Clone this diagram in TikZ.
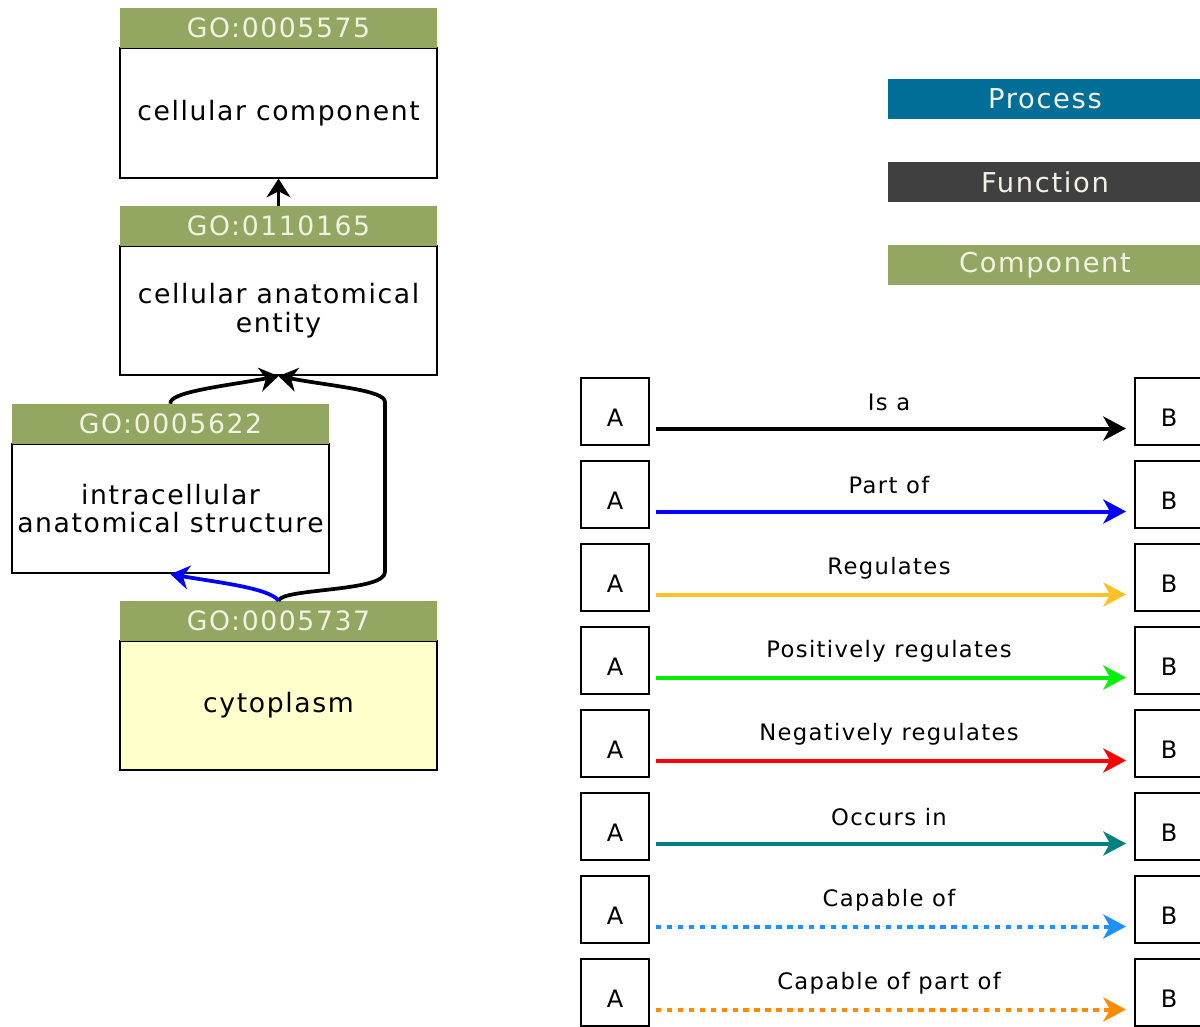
\documentclass[tikz,border=0pt]{standalone}
\usepackage{fontspec}
\setmainfont{DejaVu Sans}
\newfontfamily\gvfont[LetterSpace=6]{DejaVu Sans}
\usetikzlibrary{arrows.meta}
\definecolor{gogreen}{RGB}{147,166,98}
\definecolor{hdrtext}{RGB}{242,242,228}
\definecolor{procblue}{RGB}{0,110,150}
\definecolor{funcgray}{RGB}{64,64,64}
\definecolor{bodyyellow}{RGB}{255,255,204}
\definecolor{regcol}{RGB}{255,193,37}
\definecolor{poscol}{RGB}{0,240,0}
\definecolor{negcol}{RGB}{255,0,0}
\definecolor{occcol}{RGB}{0,128,128}
\definecolor{capcol}{RGB}{30,144,255}
\definecolor{cappcol}{RGB}{255,140,0}
\tikzset{
  hdr/.style={fill=gogreen, draw=none, minimum width=237.75pt, minimum height=30pt, inner sep=0pt, text=hdrtext, font=\gvfont\fontsize{20}{23}\selectfont},
  gobody/.style={draw=black, line width=1.5pt, fill=white, minimum width=237.75pt, minimum height=97pt, inner sep=0pt, align=center, font=\gvfont\fontsize{20}{21.5}\selectfont},
  garrow/.style={draw=black, line width=2.8pt, -{Stealth[length=14pt,width=18pt,inset=4.5pt]}},
  legbar/.style={draw=none, minimum width=235.5pt, minimum height=30pt, inner sep=0pt, text=hdrtext, font=\gvfont\fontsize{20.5}{23}\selectfont},
  abox/.style={draw=black, line width=1.5pt, minimum width=51pt, minimum height=50pt, inner sep=0pt, font=\gvfont\fontsize{18}{20}\selectfont},
  rlabel/.style={font=\gvfont\fontsize{17}{20}\selectfont, inner sep=0pt},
  larrow/.style={line width=3pt, -{Stealth[length=17pt,width=18pt,inset=5pt]}, shorten <=4.5pt, shorten >=6pt},
  dotline/.style={dash pattern=on 4pt off 4.2pt}
}
\newcommand\lowtext[1]{\raisebox{-11pt}[0pt][0pt]{#1}}
\begin{document}
\begin{tikzpicture}[x=0.75pt,y=-0.75pt]
\useasboundingbox (0,0) rectangle (1200,1027);
% GO graph nodes
\node[gobody] (b1) at (278.5,113) {cellular component};
\node[hdr] (h1) at (278.5,28) {GO:0005575};
\node[gobody] (b2) at (278.5,310.5) {cellular anatomical\\entity};
\node[hdr] (h2) at (278.5,226) {GO:0110165};
\node[gobody] (b3) at (170.5,508.5) {intracellular\\anatomical structure};
\node[hdr] (h3) at (170.5,424) {GO:0005622};
\node[gobody, fill=bodyyellow] (b4) at (278.5,705.5) {cytoplasm};
\node[hdr] (h4) at (278.5,621) {GO:0005737};
\coordinate (r1) at (385,572);
\coordinate (r2) at (385,402);
% GO graph edges
\draw[garrow] (h2.north) -- (b1.south);
\draw[garrow] (h3.north) .. controls (168,392) and (225,386) .. (b2.south);
\draw[garrow, line join=round] (h4.north) .. controls (282,588) and (385,592) .. (r1) -- (r2) .. controls (385,390) and (330,386) .. (b2.south);
\draw[garrow, draw=blue] (h4.north) .. controls (270,588) and (215,582) .. (b3.south);
% category legend
\node[legbar, fill=procblue] (lp) at (1045,99) {Process};
\node[legbar, fill=funcgray] (lf) at (1045,182) {Function};
\node[legbar, fill=gogreen] (lc) at (1045,265) {Component};
% relation legend
\foreach \i/\lab/\col/\sty in {0/Is a/black/solid, 1/Part of/blue/solid, 2/Regulates/regcol/solid, 3/Positively regulates/poscol/solid, 4/Negatively regulates/negcol/solid, 5/Occurs in/occcol/solid, 6/Capable of/capcol/dotline, 7/Capable of part of/cappcol/dotline}{
  \node[abox] (A\i) at (615,411.5+83*\i) {\lowtext{A}};
  \node[abox] (B\i) at (1169,411.5+83*\i) {\lowtext{B}};
  \node[rlabel] (L\i) at (889,402+83*\i) {\lab};
  \draw[larrow, draw=\col, fill=\col, \sty] ([yshift=-12.75pt]A\i.east) -- ([yshift=-12.75pt]B\i.west);
}
\end{tikzpicture}
\end{document}
